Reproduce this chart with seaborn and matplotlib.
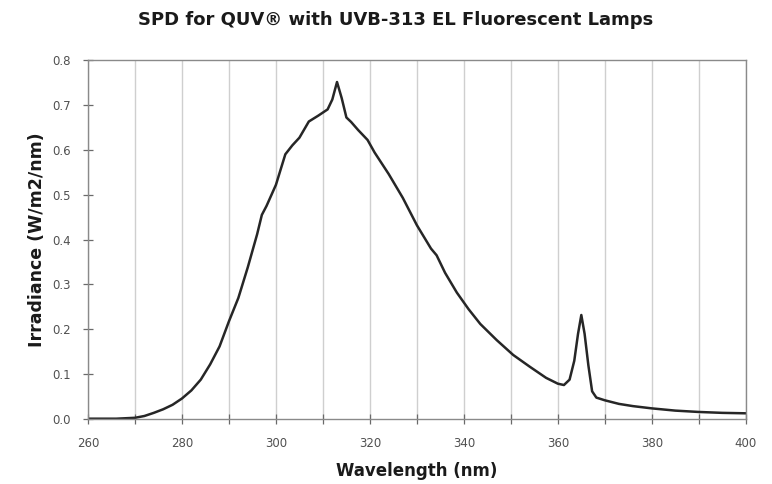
import matplotlib
matplotlib.use("Agg")
import matplotlib.pyplot as plt
from matplotlib.ticker import MultipleLocator, FormatStrFormatter
import seaborn as sns
import pandas as pd

# spectral data
wavelength = [260, 262, 264, 266, 268, 270, 272, 274, 276, 278, 280, 282, 284,
              286, 288, 290, 292, 294, 296, 297, 298, 300, 302, 303.5, 305,
              307, 309, 311, 312, 313, 314, 315, 316, 317.5, 319.5, 321, 324,
              327, 330, 333, 334.2, 336, 338.5, 341, 343.5, 347, 350.5, 354,
              357.5, 360, 361.3, 362.5, 363.5, 364.3, 365, 365.7, 366.5,
              367.3, 368.2, 370, 373, 376, 380, 385, 390, 395, 400]
irradiance = [0.001, 0.001, 0.001, 0.001, 0.002, 0.003, 0.007, 0.014, 0.022,
              0.032, 0.046, 0.064, 0.088, 0.122, 0.162, 0.218, 0.270, 0.338,
              0.412, 0.455, 0.475, 0.522, 0.590, 0.610, 0.627, 0.663, 0.676,
              0.690, 0.712, 0.751, 0.715, 0.672, 0.662, 0.644, 0.622, 0.594,
              0.546, 0.493, 0.432, 0.380, 0.365, 0.326, 0.282, 0.245, 0.212,
              0.176, 0.143, 0.117, 0.092, 0.079, 0.076, 0.088, 0.130, 0.190,
              0.232, 0.190, 0.120, 0.062, 0.048, 0.042, 0.034, 0.029, 0.024,
              0.019, 0.016, 0.014, 0.013]

title = "SPD for QUV® with UVB-313 EL Fluorescent Lamps"
x_label = "Wavelength (nm)"
y_label = "Irradiance (W/m2/nm)"

df = pd.DataFrame({"Wavelength": wavelength, "Irradiance": irradiance})

sns.set_theme(style="white")
plt.rcParams["font.family"] = ["DejaVu Sans"]

fig = plt.figure(figsize=(7.72, 4.84), dpi=100)
ax = fig.add_axes([0.114, 0.134, 0.852, 0.742])

sns.lineplot(data=df, x="Wavelength", y="Irradiance", ax=ax,
             color="#262626", linewidth=1.8)

ax.set_xlim(260, 400)
ax.set_ylim(0, 0.8)
ax.xaxis.set_major_locator(MultipleLocator(20))
ax.xaxis.set_minor_locator(MultipleLocator(10))
ax.yaxis.set_major_locator(MultipleLocator(0.1))
ax.yaxis.set_major_formatter(FormatStrFormatter("%.1f"))

ax.grid(True, axis="x", which="both", color="#cfcfcf", linewidth=1.0)
ax.grid(False, axis="y")

for s in ax.spines.values():
    s.set_color("#8a8a8a")
    s.set_linewidth(1.0)

ax.tick_params(axis="both", which="both", direction="inout", length=7,
               width=0.9, color="#6a6a6a", labelsize=8.5, labelcolor="#505050",
               bottom=True, left=True)
ax.tick_params(axis="x", pad=9)
ax.tick_params(axis="y", pad=9)

ax.set_xlabel(x_label, fontsize=12, fontweight="bold", color="#1a1a1a", labelpad=9)
ax.set_ylabel(y_label, fontsize=12.5, fontweight="bold", color="#1a1a1a", labelpad=4)
fig.suptitle(title, x=0.512, y=0.978, fontsize=13, fontweight="bold", color="#1a1a1a")

fig.savefig("out.png", dpi=100, facecolor="white")
